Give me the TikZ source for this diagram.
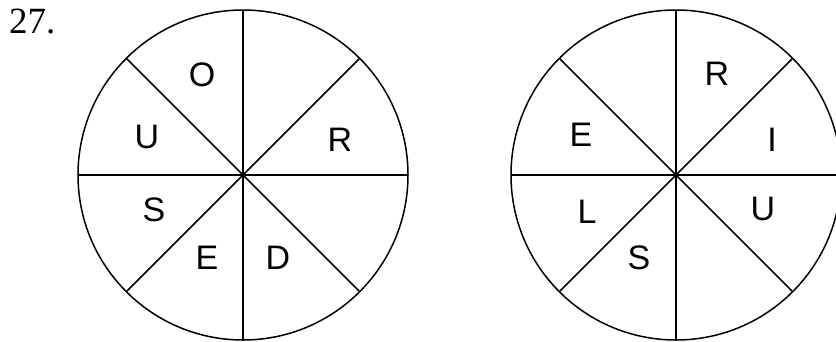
\documentclass[tikz,border=0pt]{standalone}
\usepackage{fontspec}
\setmainfont{Liberation Serif}
\newfontfamily\lsans{Liberation Sans}
\begin{document}
\begin{tikzpicture}[x=1pt,y=-1pt,
  wheel/.style={draw,line width=1.5pt},
  spoke/.style={line width=1.5pt},
  letter/.style={font=\lsans\fontsize{34}{34}\selectfont,inner sep=0pt,anchor=center},
  numlabel/.style={font=\fontsize{37}{37}\selectfont,inner sep=0pt}]
\useasboundingbox (0,0) rectangle (836,341);
\clip (0,0) rectangle (836,341);
% left wheel
\coordinate (cl) at (243,175);
\draw[wheel] (cl) circle (165);
\foreach \a in {0,45,...,315}{\draw[spoke] (cl) -- ++(\a:165);}
% right wheel
\coordinate (cr) at (676,175);
\draw[wheel] (cr) circle (165);
\foreach \a in {0,45,...,315}{\draw[spoke] (cr) -- ++(\a:165);}
% number
\node[numlabel,anchor=base west] (num) at (9,33) {27.};
% left letters
\node[letter] (lO) at (202,75) {O};
\node[letter] (lU) at (147,137) {U};
\node[letter] (lR) at (340,140) {R};
\node[letter] (lS) at (154,210) {S};
\node[letter] (lE) at (207,258) {E};
\node[letter] (lD) at (278,258) {D};
% right letters
\node[letter] (rR) at (717,74) {R};
\node[letter] (rI) at (772,140) {I};
\node[letter] (rE) at (581,135) {E};
\node[letter] (rL) at (587,212) {L};
\node[letter] (rU) at (763,209) {U};
\node[letter] (rS) at (639,258) {S};
\end{tikzpicture}
\end{document}
